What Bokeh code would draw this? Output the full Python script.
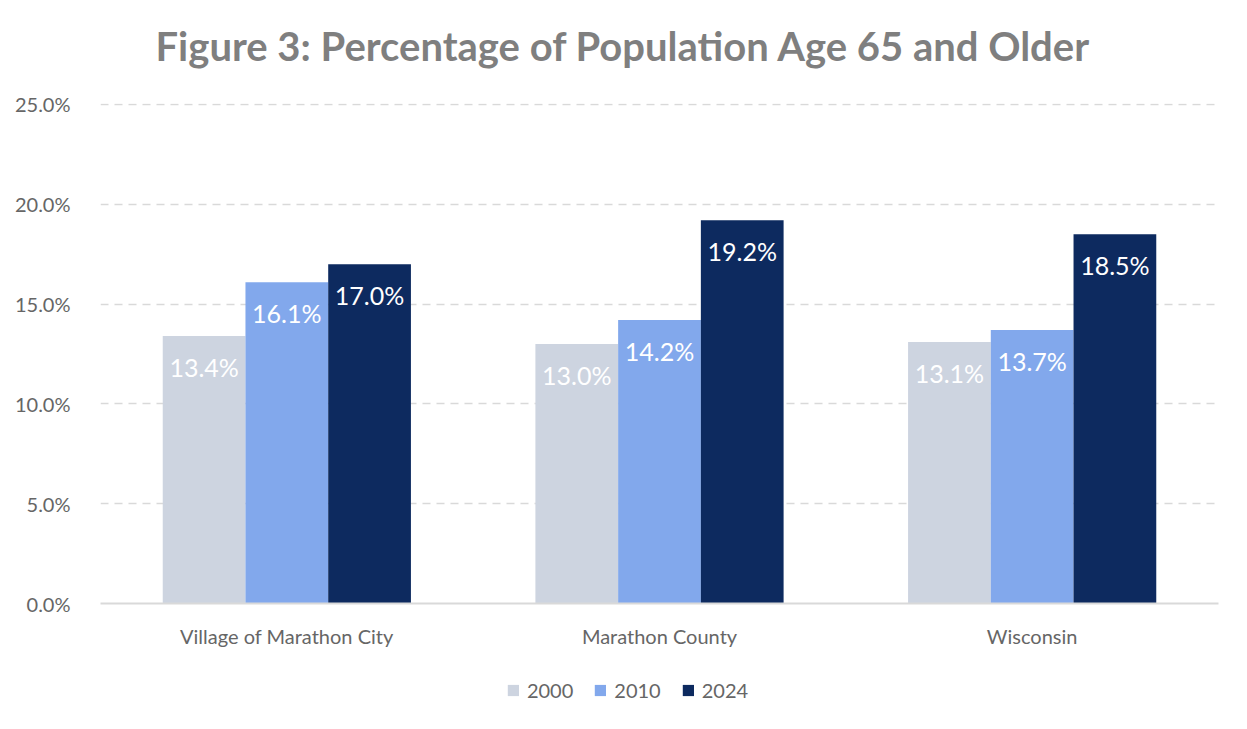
from bokeh.plotting import figure
from bokeh.layouts import column
from bokeh.models import (ColumnDataSource, FactorRange, LabelSet, Legend, LegendItem, Title,
                          SingleIntervalTicker, CustomJSTickFormatter)
from bokeh.core.properties import value
from bokeh.transform import dodge
from bokeh.embed import file_html
from bokeh.resources import INLINE

categories = ["Village of Marathon City", "Marathon County", "Wisconsin"]
years = ["2000", "2010", "2024"]
v2000 = [13.4, 13.0, 13.1]
v2010 = [16.1, 14.2, 13.7]
v2024 = [17.0, 19.2, 18.5]
colors = ["#CDD4E0", "#82A8EC", "#0D2A5F"]

FONT = "Lato"
src = ColumnDataSource(dict(
    cat=categories, v2000=v2000, v2010=v2010, v2024=v2024,
    l2000=[f"{v:.1f}%" for v in v2000],
    l2010=[f"{v:.1f}%" for v in v2010],
    l2024=[f"{v:.1f}%" for v in v2024],
))

p = figure(x_range=FactorRange(*categories, range_padding=0), y_range=(0, 25.05), title=None,
           frame_width=1118, frame_height=500, output_backend="svg", toolbar_location=None,
           min_border_left=100, min_border_right=29, min_border_top=103, min_border_bottom=60)

bw = 0.222
for i, (yr, col) in enumerate(zip(years, colors)):
    off = (i - 1) * bw
    p.vbar(x=dodge("cat", off, range=p.x_range), top="v" + yr, width=bw, source=src,
           fill_color=col, line_color=None)
    lbl = LabelSet(x=dodge("cat", off, range=p.x_range), y="v" + yr, text="l" + yr, source=src,
                   y_offset=-31, text_align="center", text_baseline="middle",
                   text_color="white", text_font=value(FONT), text_font_size="25px")
    p.add_layout(lbl)

spacer = Title(text=" ", text_font_size="16px")
p.add_layout(spacer, "above")
title = Title(text="Figure 3: Percentage of Population Age 65 and Older", align="left",
              offset=55, text_font=FONT, text_font_size="40px", text_font_style="bold",
              text_color="#7F7F7F")
p.add_layout(title, "above")

p.yaxis.ticker = SingleIntervalTicker(interval=5)
p.yaxis.formatter = CustomJSTickFormatter(code="return tick.toFixed(1) + '%';")
p.yaxis.axis_line_color = None
p.yaxis.major_tick_line_color = None
p.yaxis.minor_tick_line_color = None
p.yaxis.major_label_text_font = FONT
p.yaxis.major_label_text_font_size = "20px"
p.yaxis.major_label_text_color = "#666666"
p.yaxis.major_label_standoff = 24

p.xaxis.axis_line_color = "#D9D9D9"
p.xaxis.axis_line_width = 2
p.xaxis.major_tick_line_color = None
p.xaxis.minor_tick_line_color = None
p.xaxis.major_label_text_font = FONT
p.xaxis.major_label_text_font_size = "20px"
p.xaxis.major_label_text_color = "#666666"
p.xaxis.major_label_standoff = 14

p.xgrid.grid_line_color = None
p.ygrid.grid_line_color = "#D9D9D9"
p.ygrid.grid_line_width = 1.5
p.ygrid.grid_line_dash = "8 6"
p.outline_line_color = None

# Legend strip below the chart (bars drawn outside its visible range, only swatches show)
lg = figure(x_range=FactorRange(*categories), y_range=(100, 101), width=1183, height=54,
            output_backend="svg", toolbar_location=None, title=None,
            min_border_left=0, min_border_right=0, min_border_top=0, min_border_bottom=0)
lg.axis.visible = False
lg.grid.visible = False
lg.outline_line_color = None
items = []
for i, (yr, col) in enumerate(zip(years, colors)):
    r = lg.vbar(x=dodge("cat", (i - 1) * bw, range=lg.x_range), top="v" + yr, width=bw,
                source=src, fill_color=col, line_color=None)
    items.append(LegendItem(label=yr, renderers=[r]))
legend = Legend(items=items, orientation="horizontal", location="center",
                label_text_font=FONT, label_text_font_size="20px", label_text_color="#666666",
                glyph_width=14, glyph_height=14, spacing=20, label_standoff=7,
                border_line_color=None, background_fill_alpha=0, margin=0, padding=4)
lg.add_layout(legend, "center")

layout = column(p, lg, spacing=0)
open("out.html", "w").write(file_html(layout, INLINE))
